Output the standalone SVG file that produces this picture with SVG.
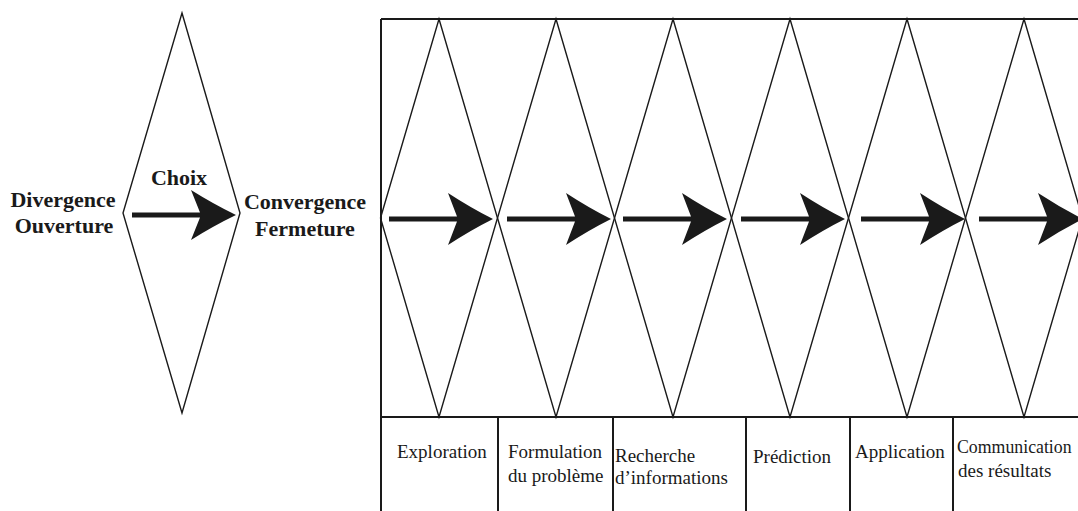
<svg xmlns="http://www.w3.org/2000/svg" width="1078" height="511" viewBox="0 0 1078 511">
  <style>
    .dia { fill: none; stroke: #1a1a1a; stroke-width: 1.4; stroke-linejoin: miter; }
    .frame { fill: none; stroke: #1a1a1a; stroke-width: 2; }
    .arr { fill: #1a1a1a; }
    .lbl { font-family: 'Liberation Serif', 'DejaVu Serif', serif; font-weight: bold; font-size: 22px; fill: #1a1a1a; }
    .stage { font-family: 'Liberation Serif', 'DejaVu Serif', serif; font-size: 19px; fill: #1a1a1a; }
    .stage.tight { font-size: 17.8px; }
  </style>
  <defs>
    <!-- thick arrow, tip at the origin -->
    <path id="thickArrow" class="arr" d="M0,0 Q-22,-11 -45,-26 L-36,-2.5 L-104,-2.5 L-104,2.5 L-36,2.5 L-45,26 Q-22,11 0,0 Z"/>
  </defs>
  <rect width="1078" height="511" fill="#ffffff"/>

  <!-- single divergence / convergence diamond -->
  <g id="model">
    <polygon class="dia" points="182,13 240,213 182,413 123,213"/>
    <use href="#thickArrow" transform="translate(236,215) scale(1,0.96)"/>
    <text class="lbl" x="179" y="185" text-anchor="middle">Choix</text>
    <text class="lbl" x="63" y="207" text-anchor="middle">Divergence</text>
    <text class="lbl" x="64" y="233" text-anchor="middle">Ouverture</text>
    <text class="lbl" x="305" y="209" text-anchor="middle">Convergence</text>
    <text class="lbl" x="305" y="236" text-anchor="middle">Fermeture</text>
  </g>

  <!-- frame of the process sequence -->
  <g id="frame">
    <path class="frame" d="M381,19 H1078 M381,19 V511 M381,417 H1078 M498,417 V511 M613,417 V511 M746,417 V511 M850,417 V511 M953,417 V511"/>
  </g>

  <!-- diamonds of the sequence -->
  <g id="stage-exploration">
    <polygon class="dia" points="439,19 497.5,218 439,417 380.5,218"/>
    <text class="stage" x="397" y="458">Exploration</text>
  </g>
  <g id="stage-formulation">
    <polygon class="dia" points="556,19 614.5,218 556,417 497.5,218"/>
    <text class="stage" x="508" y="458">Formulation</text>
    <text class="stage" x="508" y="482">du problème</text>
  </g>
  <g id="stage-recherche">
    <polygon class="dia" points="673,19 731.5,218 673,417 614.5,218"/>
    <text class="stage" x="615" y="462">Recherche</text>
    <text class="stage" x="615" y="484">d’informations</text>
  </g>
  <g id="stage-prediction">
    <polygon class="dia" points="790,19 848.5,218 790,417 731.5,218"/>
    <text class="stage" x="753" y="463">Prédiction</text>
  </g>
  <g id="stage-application">
    <polygon class="dia" points="907,19 965.5,218 907,417 848.5,218"/>
    <text class="stage" x="855" y="458">Application</text>
  </g>
  <g id="stage-communication">
    <polygon class="dia" points="1024,19 1082.5,218 1024,417 965.5,218"/>
    <text class="stage tight" x="957" y="453">Communication</text>
    <text class="stage" x="958" y="477">des résultats</text>
  </g>

  <!-- arrows linking the stages -->
  <g id="connectors">
    <use href="#thickArrow" transform="translate(493,219)"/>
    <use href="#thickArrow" transform="translate(611,219)"/>
    <use href="#thickArrow" transform="translate(727,219)"/>
    <use href="#thickArrow" transform="translate(845,219)"/>
    <use href="#thickArrow" transform="translate(965,219)"/>
    <use href="#thickArrow" transform="translate(1083,219)"/>
  </g>
</svg>
